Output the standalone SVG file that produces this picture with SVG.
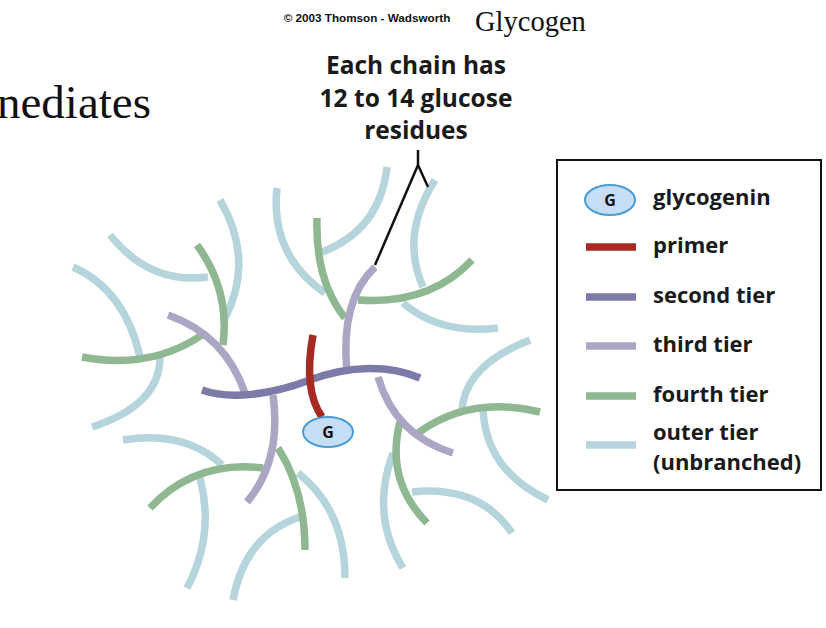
<svg xmlns="http://www.w3.org/2000/svg" width="826" height="628" viewBox="0 0 826 628">
<style>
.c{fill:none;stroke-width:7.5;stroke-linecap:butt}
.o{stroke:#b5d4dc}.f{stroke:#8fb791}.t{stroke:#aca6c5}.s{stroke:#7b7aa8}.p{stroke:#a52a24}
.g{fill:#c6def5;stroke:#4a9bd4;stroke-width:2}
.gt{font-family:"Open Sans","Liberation Sans",sans-serif;font-weight:bold;font-size:16px;fill:#111;text-anchor:middle}
.lb{font-family:"Open Sans","Liberation Sans",sans-serif;font-weight:bold;font-size:22px;fill:#1a1a1a}
.co{font-family:"Open Sans","Liberation Sans",sans-serif;font-weight:bold;font-size:24.5px;fill:#1a1a1a;text-anchor:middle}
</style>
<rect width="826" height="628" fill="#fff"/>
<text x="367" y="22" font-family="Liberation Sans,sans-serif" font-weight="bold" font-size="11.7" text-anchor="middle" fill="#111">© 2003 Thomson - Wadsworth</text>
<text x="475" y="31" font-family="Liberation Serif,serif" font-size="28.5" fill="#111">Glycogen</text>
<text x="-3" y="118" font-family="Liberation Serif,serif" font-size="47" fill="#111">nediates</text>
<g id="callout">
<text class="co" x="416" y="74">Each chain has</text>
<text class="co" x="416" y="107">12 to 14 glucose</text>
<text class="co" x="416" y="139">residues</text>
</g>
<g id="connectors">
<g id="outer">
<path class="c o" d="M220,200 Q255,260 225,318"/>
<path class="c o" d="M110,235 Q150,285 208,277"/>
<path class="c o" d="M73,267 Q125,290 140,357"/>
<path class="c o" d="M160,357 Q160,405 92,427"/>
<path class="c o" d="M277,188 Q270,255 325,293"/>
<path class="c o" d="M387,167 Q380,230 322,252"/>
<path class="c o" d="M435,180 Q400,235 423,287"/>
<path class="c o" d="M403,303 Q440,335 498,328"/>
<path class="c o" d="M530,340 Q465,365 462,410"/>
<path class="c o" d="M483,408 Q485,470 548,500"/>
<path class="c o" d="M393,453 Q370,515 403,568"/>
<path class="c o" d="M412,492 Q480,485 512,533"/>
<path class="c o" d="M298,473 Q345,510 345,578"/>
<path class="c o" d="M300,517 Q245,535 233,600"/>
<path class="c o" d="M200,478 Q215,535 187,588"/>
<path class="c o" d="M123,440 Q185,430 222,465"/>
</g>
<g id="fourth">
<path class="c f" d="M197,245 Q230,290 223,345"/>
<path class="c f" d="M82,357 Q150,370 202,335"/>
<path class="c f" d="M317,218 Q315,280 345,318"/>
<path class="c f" d="M358,300 Q430,305 472,260"/>
<path class="c f" d="M150,508 Q195,460 263,468"/>
<path class="c f" d="M278,448 Q305,490 305,550"/>
<path class="c f" d="M400,422 Q385,480 427,523"/>
<path class="c f" d="M418,433 Q470,395 540,412"/>
</g>
<g id="third">
<path class="c t" d="M168,315 Q225,335 245,393"/>
<path class="c t" d="M273,395 Q282,460 247,502"/>
<path class="c t" d="M375,267 Q340,300 347,372"/>
<path class="c t" d="M378,377 Q395,435 453,453"/>
</g>
<path id="second" class="c s" d="M202,390 C230,400 270,395 310,380 S390,365 420,378"/>
<path id="primer" class="c p" d="M313,335 Q303,390 322,417"/>
<path id="leader" fill="none" stroke="#111" stroke-width="2.5" d="M375,265 L418,165 L418,150 M418,165 L428,187"/>
</g>
<g id="glycogenin">
<ellipse class="g" cx="328" cy="432" rx="25" ry="15"/>
<text class="gt" x="328" y="438">G</text>
</g>
<g id="legend">
<rect x="557" y="160" width="264" height="330" fill="none" stroke="#111" stroke-width="2"/>
<ellipse class="g" cx="610" cy="200" rx="25" ry="15"/>
<text class="gt" x="610" y="206">G</text>
<text class="lb" x="653" y="205">glycogenin</text>
<line class="c p" x1="586" y1="247" x2="636" y2="247"/>
<text class="lb" x="653" y="253">primer</text>
<line class="c s" x1="586" y1="297" x2="636" y2="297"/>
<text class="lb" x="653" y="303">second tier</text>
<line class="c t" x1="586" y1="346" x2="636" y2="346"/>
<text class="lb" x="653" y="352">third tier</text>
<line class="c f" x1="586" y1="396" x2="636" y2="396"/>
<text class="lb" x="653" y="402">fourth tier</text>
<line class="c o" x1="586" y1="445" x2="636" y2="445"/>
<text class="lb" x="653" y="440">outer tier</text>
<text class="lb" x="653" y="470">(unbranched)</text>
</g>
</svg>
